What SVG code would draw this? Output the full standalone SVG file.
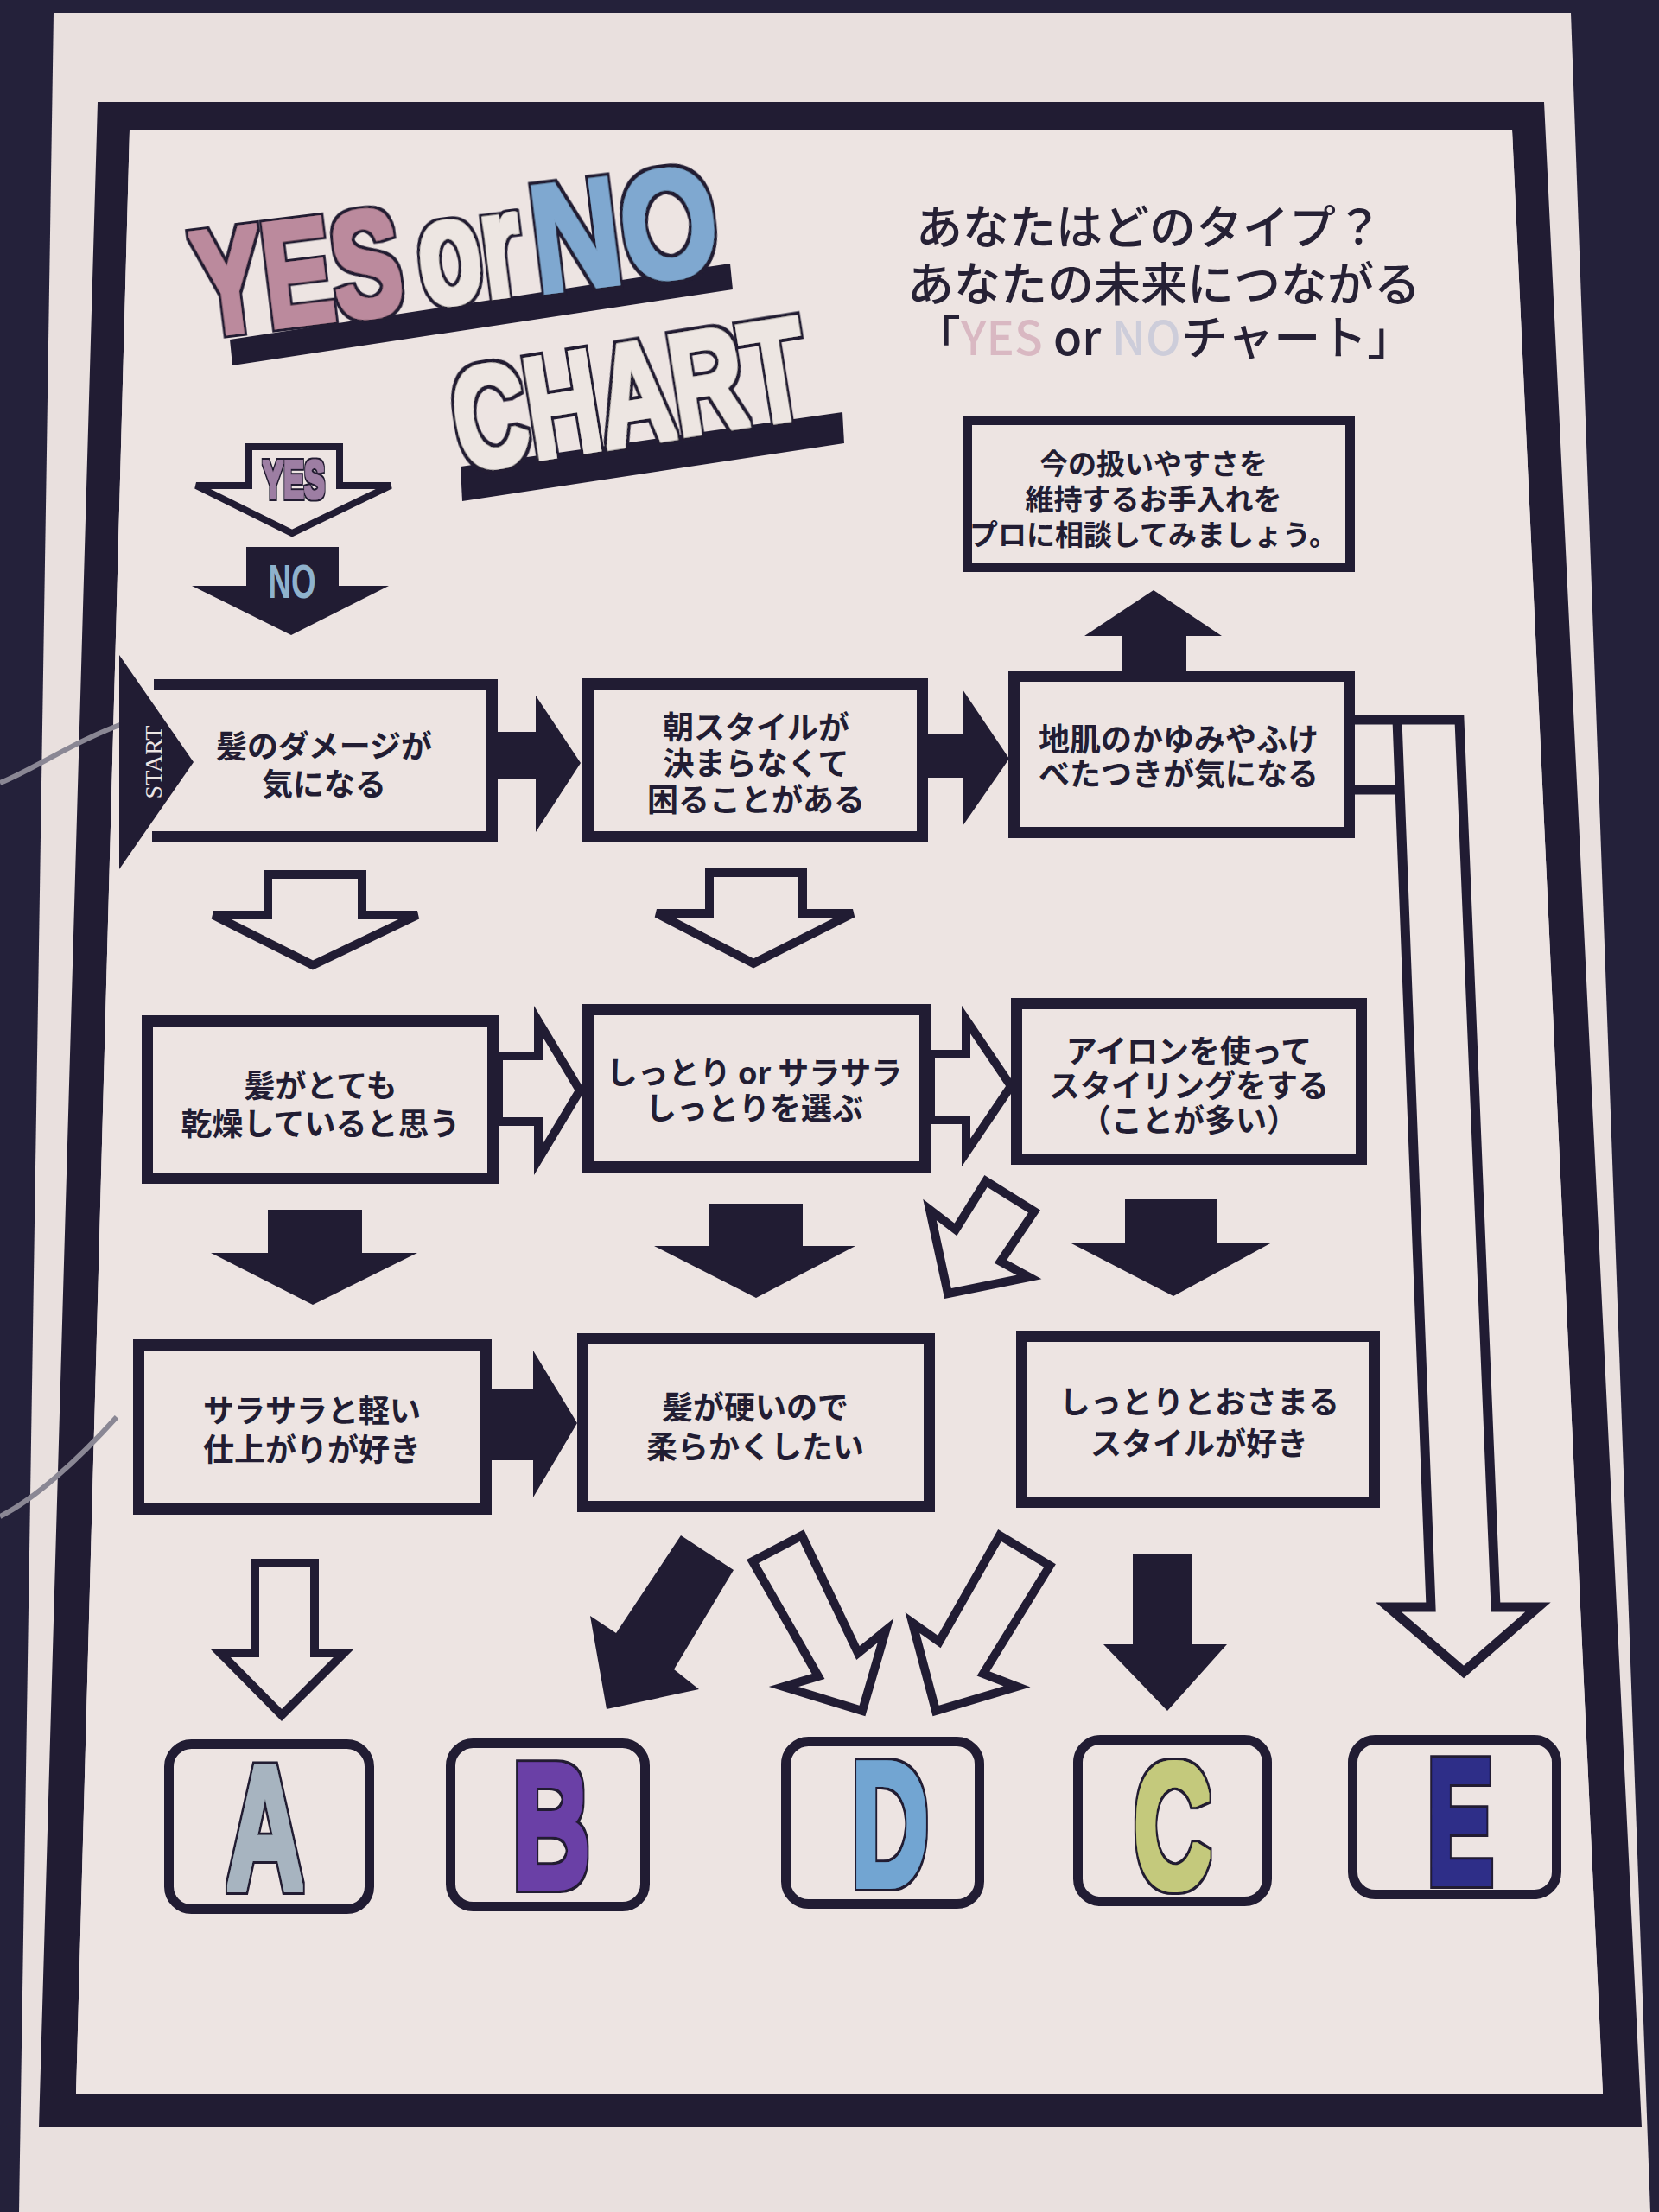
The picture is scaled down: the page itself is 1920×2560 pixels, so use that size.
<svg xmlns="http://www.w3.org/2000/svg" width="1920" height="2560" viewBox="0 0 1920 2560">
<style>
.box{fill:none;stroke:#211c33;stroke-width:13}
.tr{fill:none;stroke:#211c33;stroke-width:11}
.t{font-family:"Noto Sans CJK JP","Noto Sans",sans-serif;font-weight:700;font-size:36px;fill:#221d33;text-anchor:middle}
.solid{fill:#211c33}
.hollow{fill:none;stroke:#211c33;stroke-width:10;stroke-linejoin:miter}
.res{fill:none;stroke:#211c33;stroke-width:11}
.letter{font-family:"Liberation Sans",Arial,sans-serif;font-weight:700;font-size:136px;text-anchor:middle;filter:url(#fatS)}
.title{font-family:"Liberation Sans",Arial,sans-serif;font-weight:700;filter:url(#fat)}
.head{font-family:"Noto Sans CJK JP","Noto Sans",sans-serif;font-weight:500;font-size:54px;fill:#262135;text-anchor:middle}
</style>
<defs>
<filter id="fat" x="-10%" y="-20%" width="120%" height="140%">
<feMorphology in="SourceGraphic" operator="dilate" radius="3" result="f"/>
<feMorphology in="SourceAlpha" operator="dilate" radius="6.5" result="o"/>
<feFlood flood-color="#211c33"/>
<feComposite in2="o" operator="in" result="ol"/>
<feMerge><feMergeNode in="ol"/><feMergeNode in="f"/></feMerge>
</filter>
<filter id="fatS" x="-10%" y="-20%" width="120%" height="140%">
<feMorphology in="SourceGraphic" operator="dilate" radius="2.5" result="f"/>
<feMorphology in="SourceAlpha" operator="dilate" radius="4.5" result="o"/>
<feFlood flood-color="#211c33"/>
<feComposite in2="o" operator="in" result="ol"/>
<feMerge><feMergeNode in="ol"/><feMergeNode in="f"/></feMerge>
</filter>
<filter id="fatXS" x="-10%" y="-20%" width="120%" height="140%">
<feMorphology in="SourceGraphic" operator="dilate" radius="1.2" result="f"/>
<feMorphology in="SourceAlpha" operator="dilate" radius="2.6" result="o"/>
<feFlood flood-color="#211c33"/>
<feComposite in2="o" operator="in" result="ol"/>
<feMerge><feMergeNode in="ol"/><feMergeNode in="f"/></feMerge>
</filter>
</defs>
<g id="background">
<rect x="0" y="0" width="1920" height="2560" fill="#24213a"/>
<polygon points="62,15 1818,15 1910,2560 22,2560" fill="#e9e0de"/>
<path d="M113,118 L1787,118 L1900,2462 L45,2462 Z M150,150 L88,2423 L1855,2423 L1750,150 Z" fill="#211c33" fill-rule="evenodd"/>
<polygon points="150,150 1750,150 1855,2423 88,2423" fill="#ede4e2"/>
<path d="M0,906 C40,890 90,855 150,835" fill="none" stroke="#8a8794" stroke-width="6"/>
<path d="M0,1755 C40,1735 90,1690 135,1640" fill="none" stroke="#8a8794" stroke-width="6"/>
</g>
<g id="title">
<polygon points="266,393 845,305 848,335 269,423" fill="#211c33"/>
<polygon points="533,540 975,477 977,513 535,580" fill="#211c33"/>
<text class="title" font-size="172" fill="#bb8a9d" transform="translate(232,389) rotate(-7) scale(0.7,1)">YES</text>
<text class="title" font-size="172" fill="#ede6e2" transform="translate(490,354) rotate(-7) scale(0.7,1)">or</text>
<text class="title" font-size="176" fill="#7fa8d0" transform="translate(622,339) rotate(-7) scale(0.82,1)">NO</text>
<text class="title" font-size="168" fill="#ede6e2" transform="translate(534,545) rotate(-9) scale(0.7,1)">CHART</text>
</g>
<g id="subtitle">
<text class="head" x="1330" y="283">あなたはどのタイプ？</text>
<text class="head" x="1347" y="349">あなたの未来につながる</text>
<text class="head" x="1347" y="411">「<tspan fill="#d9b8c2">YES</tspan> or <tspan fill="#cdcdda">NO</tspan>チャート」</text>
</g>
<g id="legend">
<polygon class="hollow" style="stroke-width:8" points="288,517 393,517 393,562 452,562 338,617 227,562 288,562"/>
<text font-family="Liberation Sans, Arial, sans-serif" font-weight="700" font-size="40" fill="#9d7ea3" text-anchor="middle" filter="url(#fatXS)" transform="translate(340,576) scale(0.9,1.55)">YES</text>
<polygon class="solid" points="285,633 392,633 392,678 450,678 337,735 222,678 285,678"/>
<text font-family="Liberation Sans, Arial, sans-serif" font-weight="700" font-size="40" fill="#8fb2cc" text-anchor="middle" transform="translate(338,692) scale(0.92,1.4)">NO</text>
</g>
<g id="connectors">
<polygon class="solid" points="576,847 620,847 620,805 672,883 620,963 620,901 576,901"/>
<polygon class="solid" points="1074,849 1114,849 1114,798 1168,878 1114,956 1114,900 1074,900"/>
<polygon class="solid" points="1299,776 1299,736 1255,736 1335,683 1414,736 1373,736 1373,776"/>
<polygon class="hollow" points="310,1012 419,1012 419,1059 483,1059 362,1117 247,1059 310,1059"/>
<polygon class="hollow" points="821,1010 929,1010 929,1057 987,1057 872,1115 760,1057 821,1057"/>
<polygon class="hollow" points="577,1222 623,1222 623,1182 671,1262 623,1342 623,1298 577,1298"/>
<polygon class="hollow" points="1077,1220 1118,1220 1118,1180 1170,1257 1118,1334 1118,1296 1077,1296"/>
<polygon class="solid" points="310,1400 419,1400 419,1450 483,1450 362,1510 244,1450 310,1450"/>
<polygon class="solid" points="821,1393 929,1393 929,1442 990,1442 875,1502 757,1442 821,1442"/>
<polygon class="solid" points="1302,1388 1408,1388 1408,1438 1472,1438 1358,1500 1238,1438 1302,1438"/>
<polygon class="hollow" points="1141,1367 1197,1402 1158,1460 1191,1478 1097,1497 1076,1400 1106,1423"/>
<polygon class="solid" points="569,1608 617,1608 617,1563 668,1647 617,1733 617,1690 569,1690"/>
<polygon class="hollow" points="295,1809 364,1809 364,1913 398,1913 326,1985 255,1913 295,1913"/>
<polygon class="solid" points="788,1777 849,1817 780,1932 809,1955 702,1978 683,1870 713,1890"/>
<polygon class="hollow" points="928,1777 993,1913 1025,1887 998,1980 907,1952 947,1940 871,1807"/>
<polygon class="hollow" points="1157,1777 1215,1812 1138,1937 1177,1952 1083,1980 1056,1878 1087,1900"/>
<polygon class="solid" points="1311,1798 1380,1798 1380,1903 1420,1903 1351,1980 1277,1903 1311,1903"/>
<polygon class="hollow" style="stroke-width:11" points="1617,833 1689,833 1731,1860 1780,1860 1694,1935 1607,1860 1656,1860"/>
<path d="M1568,833 L1620,833 M1568,914 L1620,914" fill="none" stroke="#211c33" stroke-width="11"/>
</g>
<g id="node-advice">
<rect class="tr" x="1119.5" y="486.5" width="443" height="170"/>
<text class="t" style="font-size:33px" x="1335" y="549">今の扱いやすさを</text>
<text class="t" style="font-size:33px" x="1335" y="590">維持するお手入れを</text>
<text class="t" style="font-size:33px" x="1335" y="631">プロに相談してみましょう。</text>
</g>
<g id="node-damage">
<path class="box" d="M178,792.5 H569.5 V968.5 H176"/>
<text class="t" x="375" y="877">髪のダメージが</text>
<text class="t" x="375" y="921">気になる</text>
</g>
<g id="start">
<polygon class="solid" points="138,758 224,882 138,1006"/>
<text x="0" y="0" transform="translate(187,882) rotate(-90)" font-family="Liberation Serif, serif" font-size="28" fill="#ece6e4" text-anchor="middle">START</text>
</g>
<g id="node-morning">
<rect class="box" x="680.5" y="791.5" width="387" height="177"/>
<text class="t" x="875" y="855">朝スタイルが</text>
<text class="t" x="875" y="897">決まらなくて</text>
<text class="t" x="875" y="939">困ることがある</text>
</g>
<g id="node-scalp">
<rect class="box" x="1173.5" y="782.5" width="388" height="181"/>
<text class="t" x="1364" y="869">地肌のかゆみやふけ</text>
<text class="t" x="1364" y="909">べたつきが気になる</text>
</g>
<g id="node-dry">
<rect class="box" x="170.5" y="1181.5" width="400" height="182"/>
<text class="t" x="371" y="1270">髪がとても</text>
<text class="t" x="371" y="1314">乾燥していると思う</text>
</g>
<g id="node-moist">
<rect class="box" x="680.5" y="1168.5" width="390" height="182"/>
<text class="t" x="873" y="1255">しっとり or サラサラ</text>
<text class="t" x="873" y="1296">しっとりを選ぶ</text>
</g>
<g id="node-iron">
<rect class="box" x="1176.5" y="1161.5" width="399" height="180"/>
<text class="t" x="1376" y="1230">アイロンを使って</text>
<text class="t" x="1376" y="1270">スタイリングをする</text>
<text class="t" x="1376" y="1310">（ことが多い）</text>
</g>
<g id="node-light">
<rect class="box" x="160.5" y="1556.5" width="402" height="190"/>
<text class="t" x="361" y="1646">サラサラと軽い</text>
<text class="t" x="361" y="1691">仕上がりが好き</text>
</g>
<g id="node-hard">
<rect class="box" x="674.5" y="1549.5" width="401" height="194"/>
<text class="t" x="874" y="1642">髪が硬いので</text>
<text class="t" x="874" y="1688">柔らかくしたい</text>
</g>
<g id="node-settle">
<rect class="box" x="1182.5" y="1546.5" width="408" height="192"/>
<text class="t" x="1388" y="1636">しっとりとおさまる</text>
<text class="t" x="1388" y="1684">スタイルが好き</text>
</g>
<g id="result-A">
<rect class="res" x="195.5" y="2018.5" width="232" height="191" rx="26"/>
<text class="letter" fill="#a7b4c0" transform="translate(307,2186) scale(0.92,1.5)">A</text>
</g>
<g id="result-B">
<rect class="res" x="521.5" y="2017.5" width="225" height="189" rx="26"/>
<text class="letter" fill="#6b3fa6" transform="translate(638,2184) scale(0.92,1.5)">B</text>
</g>
<g id="result-D">
<rect class="res" x="909.5" y="2015.5" width="224" height="188" rx="26"/>
<text class="letter" fill="#72a5d2" transform="translate(1030,2182) scale(0.92,1.5)">D</text>
</g>
<g id="result-C">
<rect class="res" x="1247.5" y="2013.5" width="219" height="187" rx="26"/>
<text class="letter" fill="#c4c97c" transform="translate(1357,2184) scale(0.92,1.5)">C</text>
</g>
<g id="result-E">
<rect class="res" x="1565.5" y="2013.5" width="236" height="179" rx="26"/>
<text class="letter" fill="#2f2f88" transform="translate(1690,2179) scale(0.85,1.5)">E</text>
</g>
</svg>
